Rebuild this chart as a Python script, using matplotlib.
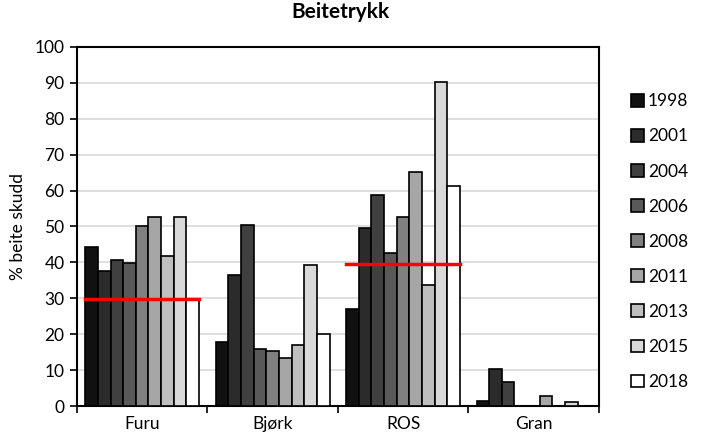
import matplotlib.pyplot as plt
import numpy as np

plt.rcParams['font.family'] = ['Lato', 'DejaVu Sans']

categories = ['Furu', 'Bjørk', 'ROS', 'Gran']
years = ['1998', '2001', '2004', '2006', '2008', '2011', '2013', '2015', '2018']

# one list per year, values for Furu, Bjørk, ROS, Gran
values = {
    '1998': [44.2, 17.8, 27.0, 1.5],
    '2001': [37.6, 36.4, 49.5, 10.2],
    '2004': [40.6, 50.3, 58.8, 6.8],
    '2006': [39.7, 15.8, 42.5, 0],
    '2008': [50.2, 15.4, 52.6, 0],
    '2011': [52.5, 13.5, 65.1, 2.9],
    '2013': [41.9, 17.0, 33.8, 0],
    '2015': [52.5, 39.4, 90.3, 1.0],
    '2018': [29.5, 20.0, 61.3, 0],
}
# red reference lines (category index, level)
ref_lines = [(0, 29.7), (2, 39.5)]

colors = ['#111111', '#2b2b2b', '#404040', '#595959', '#808080',
          '#a6a6a6', '#bfbfbf', '#d9d9d9', '#ffffff']

fig = plt.figure(figsize=(7.06, 4.38), dpi=100)
ax = fig.add_axes([0.109, 0.073, 0.739, 0.82])

x = np.arange(len(categories))
w = 0.097
offsets = (np.arange(len(years)) - (len(years) - 1) / 2) * w

handles = []
for i, yr in enumerate(years):
    b = ax.bar(x + offsets[i], values[yr], width=w, color=colors[i],
               edgecolor='black', linewidth=1.2, zorder=3, label=yr)
    handles.append(b)

half = len(years) * w / 2
for ci, lvl in ref_lines:
    ax.plot([ci - half, ci + half], [lvl, lvl], color='#ff0000', lw=2.5, zorder=4)

ax.set_xlim(-0.5, len(categories) - 0.5)
ax.set_ylim(0, 100)
ax.set_yticks(np.arange(0, 101, 10))
ax.yaxis.grid(True, color='#d9d9d9', lw=1.2, zorder=0)
ax.set_axisbelow(True)

ax.set_xticks(x)
ax.set_xticklabels(categories)
ax.set_xticks(np.arange(-0.5, len(categories)), minor=True)
ax.tick_params(axis='x', which='major', length=0, pad=7, labelsize=12.5)
ax.tick_params(axis='x', which='minor', length=5, width=1.2, direction='out')
ax.tick_params(axis='y', length=5, width=1.2, labelsize=12.5, pad=4)

for s in ax.spines.values():
    s.set_linewidth(1.5)

ax.set_ylabel('% beite skudd', fontsize=12.5, labelpad=6)
fig.text(0.483, 0.973, 'Beitetrykk', ha='center', va='center',
         fontsize=15, fontweight='bold')

leg = ax.legend(handles=handles, loc='upper left', bbox_to_anchor=(1.048, 0.89),
                frameon=False, handlelength=0.75, handleheight=0.75,
                handletextpad=0.25, labelspacing=1.1, fontsize=12.5,
                borderaxespad=0)

fig.savefig('out.png', dpi=100)
